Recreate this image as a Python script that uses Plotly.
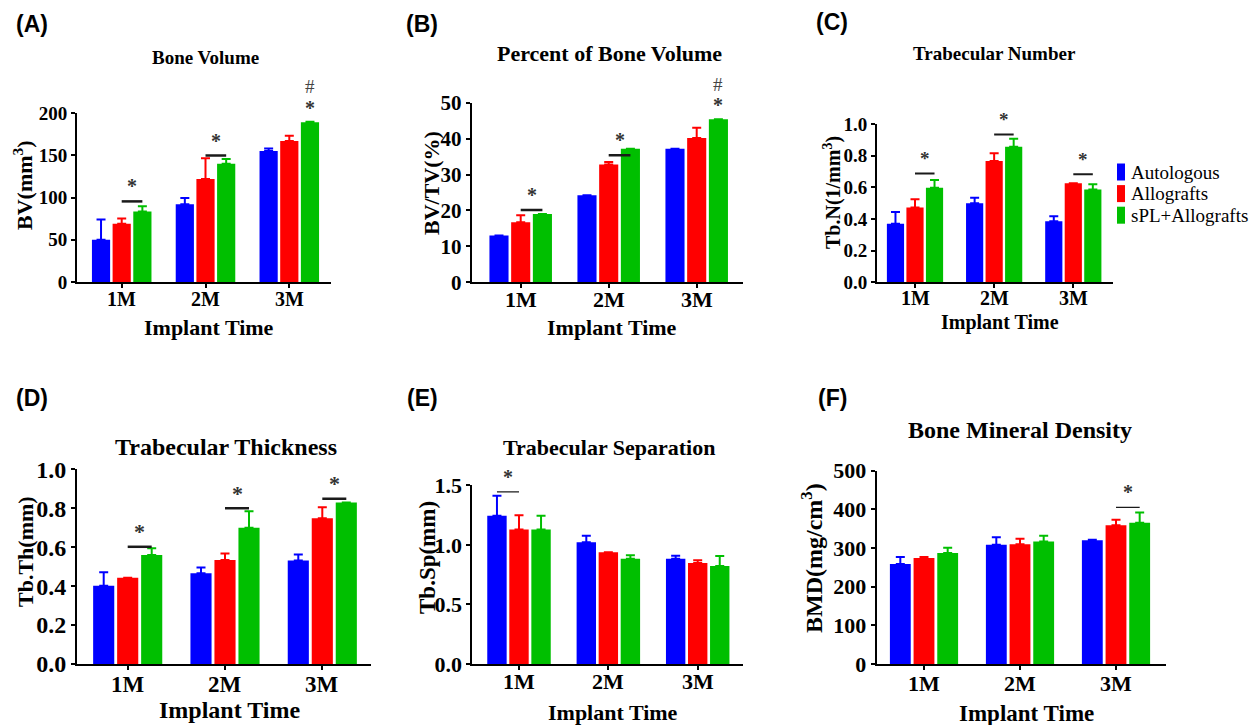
import plotly.graph_objects as go

W, H = 1255, 725

times = ["1M", "2M", "3M"]
groups = ["Autologous", "Allografts", "sPL+Allografts"]
colors = ["#0000FF", "#FF0000", "#00BF00"]

# (A) Bone Volume
bv_auto = [50, 92, 155]
bv_allo = [69, 122, 167]
bv_spl = [83.5, 140, 189]
bv_auto_sd = [24, 7.5, 3]
bv_allo_sd = [6, 24.5, 6]
bv_spl_sd = [6, 5.7, 0.7]

# (B) Percent of Bone Volume
bvtv_auto = [13.0, 24.2, 37.2]
bvtv_allo = [16.7, 32.8, 40.2]
bvtv_spl = [19.0, 37.2, 45.4]
bvtv_auto_sd = [0, 0, 0]
bvtv_allo_sd = [2.0, 0.7, 2.8]
bvtv_spl_sd = [0, 0, 0]

# (C) Trabecular Number
tbn_auto = [0.37, 0.50, 0.385]
tbn_allo = [0.472, 0.766, 0.625]
tbn_spl = [0.598, 0.857, 0.587]
tbn_auto_sd = [0.074, 0.034, 0.032]
tbn_allo_sd = [0.052, 0.049, 0]
tbn_spl_sd = [0.048, 0.05, 0.032]

# (D) Trabecular Thickness
tbth_auto = [0.402, 0.466, 0.531]
tbth_allo = [0.443, 0.534, 0.748]
tbth_spl = [0.56, 0.70, 0.829]
tbth_auto_sd = [0.069, 0.029, 0.032]
tbth_allo_sd = [0, 0.034, 0.057]
tbth_spl_sd = [0.034, 0.084, 0]

# (E) Trabecular Separation
tbsp_auto = [1.245, 1.021, 0.884]
tbsp_allo = [1.128, 0.9375, 0.848]
tbsp_spl = [1.13, 0.884, 0.823]
tbsp_auto_sd = [0.168, 0.056, 0.025]
tbsp_allo_sd = [0.12, 0, 0.022]
tbsp_spl_sd = [0.115, 0.028, 0.084]

# (F) Bone Mineral Density
bmd_auto = [258.6, 308.6, 320]
bmd_allo = [274, 310, 358.6]
bmd_spl = [287, 317, 365.5]
bmd_auto_sd = [18, 19, 1.6]
bmd_allo_sd = [2.7, 14, 14.4]
bmd_spl_sd = [14, 15, 26.5]

# significance brackets: (time index, group i, group j, y level)
sig_A = [(0, 1, 2, 95.4), (1, 1, 2, 149.7)]
sig_B = [(0, 1, 2, 20.1), (1, 1, 2, 35.4)]
sig_C = [(0, 1, 2, 0.688), (1, 1, 2, 0.933), (2, 1, 2, 0.682)]
sig_D = [(0, 1, 2, 0.602), (1, 1, 2, 0.80), (2, 1, 2, 0.849)]
sig_E = [(0, 0, 1, 1.444)]
sig_F = [(2, 1, 2, 405)]
# marks above a single bar: (time index, group index)
top_A = [(2, 2)]
top_B = [(2, 2)]

SERIF = "Liberation Serif"
SANS = "Liberation Sans"
BARGAP = 0.26
BARGROUPGAP = 0.12
SLOT = (1 - BARGAP) / 3

panels = [
    dict(label="(A)", lab=(32, 24), title="Bone Volume", tpos=(205, 57), tsize=19,
         ytitle="BV(mm<sup>3</sup>)", ypos=(23, 185), ytsize=22,
         means=[bv_auto, bv_allo, bv_spl], sds=[bv_auto_sd, bv_allo_sd, bv_spl_sd],
         ymax=200, dtick=50, fmt="d", box=(77, 331, 113, 282), cats=(121.7, 289.3),
         ytick=19, xtick=20, xl_y=298.5, xt_y=328, xtsize=22, sig=sig_A, sigw=2.5,
         star=20, top=top_A),
    dict(label="(B)", lab=(422, 24), title="Percent of Bone Volume", tpos=(609, 53), tsize=22,
         ytitle="BV/TV(%)", ypos=(432, 183), ytsize=22,
         means=[bvtv_auto, bvtv_allo, bvtv_spl], sds=[bvtv_auto_sd, bvtv_allo_sd, bvtv_spl_sd],
         ymax=50, dtick=10, fmt="d", box=(471.7, 742.7, 102.7, 282.3), cats=(520.7, 696.7),
         ytick=21, xtick=22, xl_y=300, xt_y=328, xtsize=22, sig=sig_B, sigw=2.5,
         star=20, top=top_B),
    dict(label="(C)", lab=(832, 22), title="Trabecular Number", tpos=(994, 53), tsize=19,
         ytitle="Tb.N(1/mm<sup>3</sup>)", ypos=(832, 193), ytsize=20,
         means=[tbn_auto, tbn_allo, tbn_spl], sds=[tbn_auto_sd, tbn_allo_sd, tbn_spl_sd],
         ymax=1.0, dtick=0.2, fmt=".1f", box=(877, 1113, 124, 282.3), cats=(915, 1073.3),
         ytick=19, xtick=20, xl_y=297.7, xt_y=322, xtsize=20, sig=sig_C, sigw=2,
         star=19, top=[]),
    dict(label="(D)", lab=(32, 398), title="Trabecular Thickness", tpos=(226, 447), tsize=24,
         ytitle="Tb.Th(mm)", ypos=(25, 552), ytsize=22,
         means=[tbth_auto, tbth_allo, tbth_spl], sds=[tbth_auto_sd, tbth_allo_sd, tbth_spl_sd],
         ymax=1.0, dtick=0.2, fmt=".1f", box=(77, 371, 469.3, 664), cats=(127.7, 322.3),
         ytick=24, xtick=23, xl_y=684.5, xt_y=709.5, xtsize=24, sig=sig_D, sigw=2.5,
         star=22, top=[]),
    dict(label="(E)", lab=(422, 398), title="Trabecular Separation", tpos=(609, 447), tsize=22,
         ytitle="Tb.Sp(mm)", ypos=(427, 558), ytsize=23,
         means=[tbsp_auto, tbsp_allo, tbsp_spl], sds=[tbsp_auto_sd, tbsp_allo_sd, tbsp_spl_sd],
         ymax=1.5, dtick=0.5, fmt=".1f", box=(472.3, 743, 485.3, 664), cats=(519, 697.7),
         ytick=22, xtick=22, xl_y=681.7, xt_y=712, xtsize=22, sig=sig_E, sigw=1.3,
         star=20, top=[]),
    dict(label="(F)", lab=(832, 398), title="Bone Mineral Density", tpos=(1020, 430), tsize=24,
         ytitle="BMD(mg/cm<sup>3</sup>)", ypos=(812, 558), ytsize=24,
         means=[bmd_auto, bmd_allo, bmd_spl], sds=[bmd_auto_sd, bmd_allo_sd, bmd_spl_sd],
         ymax=500, dtick=100, fmt="d", box=(876.7, 1166, 470.7, 664), cats=(924, 1116),
         ytick=22, xtick=22, xl_y=683.3, xt_y=713, xtsize=23, sig=sig_F, sigw=1.3,
         star=20, top=[]),
]


def px(x):
    return x / W


def py(y):
    return 1 - y / H


fig = go.Figure()
annotations = []
shapes = []
layout = {}

for n, p in enumerate(panels, start=1):
    xa = "x" if n == 1 else f"x{n}"
    ya = "y" if n == 1 else f"y{n}"
    x0, x1, y0, y1 = p["box"]
    c1, c3 = p["cats"]
    s = (c3 - c1) / 2
    r0 = -(c1 - x0) / s
    r1 = 2 + (x1 - c3) / s

    for g in range(3):
        fig.add_trace(go.Bar(
            x=times, y=p["means"][g], name=groups[g], xaxis=xa, yaxis=ya,
            marker=dict(color=colors[g], line=dict(width=0)),
            error_y=dict(type="data", symmetric=False, array=p["sds"][g],
                         arrayminus=[0] * 3, color=colors[g], thickness=2, width=4.5),
            showlegend=False, offsetgroup=str(g),
        ))

    key_x = "xaxis" if n == 1 else f"xaxis{n}"
    key_y = "yaxis" if n == 1 else f"yaxis{n}"
    layout[key_x] = dict(
        domain=[px(x0), px(x1)], anchor=ya, type="category", categoryorder="array",
        categoryarray=times, range=[r0, r1], showline=True, linecolor="black", linewidth=2,
        ticks="outside", ticklen=4, tickwidth=2, tickcolor="black", showgrid=False,
        zeroline=False, fixedrange=True, automargin=False, showticklabels=False,
    )
    layout[key_y] = dict(
        domain=[py(y1), py(y0)], anchor=xa, range=[0, p["ymax"]], dtick=p["dtick"],
        tick0=0, tickformat=p["fmt"], showline=True, linecolor="black", linewidth=2,
        ticks="outside", ticklen=4, tickwidth=2, tickcolor="black", showgrid=False,
        zeroline=False, fixedrange=True, automargin=False,
        tickfont=dict(family=SERIF, size=p["ytick"], color="black", weight="bold"),
    )

    # category labels under the x axis
    for t in times:
        annotations.append(dict(
            x=t, y=py(p["xl_y"]), xref=xa, yref="paper", text=t, showarrow=False,
            xanchor="center", yanchor="middle",
            font=dict(family=SERIF, size=p["xtick"], color="black", weight="bold")))
    # panel label
    annotations.append(dict(
        x=px(p["lab"][0]), y=py(p["lab"][1]), xref="paper", yref="paper",
        text=p["label"], showarrow=False, xanchor="center", yanchor="middle",
        font=dict(family=SANS, size=23, color="black", weight="bold")))
    # panel title
    annotations.append(dict(
        x=px(p["tpos"][0]), y=py(p["tpos"][1]), xref="paper", yref="paper",
        text=p["title"], showarrow=False, xanchor="center", yanchor="middle",
        font=dict(family=SERIF, size=p["tsize"], color="black", weight="bold")))
    # y title
    annotations.append(dict(
        x=px(p["ypos"][0]), y=py(p["ypos"][1]), xref="paper", yref="paper",
        text=p["ytitle"], showarrow=False, xanchor="center", yanchor="middle",
        textangle=-90,
        font=dict(family=SERIF, size=p["ytsize"], color="black", weight="bold")))
    # x title
    annotations.append(dict(
        x=px((x0 + x1) / 2 + 5), y=py(p["xt_y"]), xref="paper", yref="paper",
        text="Implant Time", showarrow=False, xanchor="center", yanchor="middle",
        font=dict(family=SERIF, size=p["xtsize"], color="black", weight="bold")))

    # significance brackets
    for (t, gi, gj, ly) in p["sig"]:
        xi = t + (gi - 1) * SLOT
        xj = t + (gj - 1) * SLOT
        shapes.append(dict(type="line", xref=xa, yref=ya, x0=xi, x1=xj, y0=ly, y1=ly,
                           line=dict(color="#1a1a1a", width=p["sigw"])))
        annotations.append(dict(
            x=(xi + xj) / 2, y=ly, xref=xa, yref=ya, text="*", showarrow=False,
            xanchor="center", yanchor="middle", yshift=15,
            font=dict(family=SERIF, size=p["star"], color="#333333", weight="bold")))
    for (t, g) in p["top"]:
        xg = t + (g - 1) * SLOT
        yt = p["means"][g][t] + p["sds"][g][t]
        annotations.append(dict(
            x=xg, y=yt, xref=xa, yref=ya, text="*", showarrow=False,
            xanchor="center", yanchor="middle", yshift=14,
            font=dict(family=SERIF, size=p["star"], color="#333333", weight="bold")))
        annotations.append(dict(
            x=xg, y=yt, xref=xa, yref=ya, text="#", showarrow=False,
            xanchor="center", yanchor="middle", yshift=35,
            font=dict(family=SERIF, size=19, color="#444444")))

# legend (drawn next to panel C)
for g in range(3):
    cy = 172 + g * 21.6
    shapes.append(dict(type="rect", xref="paper", yref="paper",
                       x0=px(1117), x1=px(1125), y0=py(cy + 8.5), y1=py(cy - 8.5),
                       fillcolor=colors[g], line=dict(width=0)))
    annotations.append(dict(
        x=px(1129), y=py(cy), xref="paper", yref="paper", text=groups[g],
        showarrow=False, xanchor="left", yanchor="middle",
        font=dict(family=SERIF, size=19, color="black")))

fig.update_layout(
    **layout,
    width=W, height=H, autosize=False,
    margin=dict(l=0, r=0, t=0, b=0, pad=0, autoexpand=False),
    paper_bgcolor="white", plot_bgcolor="white",
    barmode="group", bargap=BARGAP, bargroupgap=BARGROUPGAP,
    showlegend=False, annotations=annotations, shapes=shapes,
)

fig.write_html("out.html", config={"displayModeBar": False},
               post_script="document.body.style.margin='0';")
